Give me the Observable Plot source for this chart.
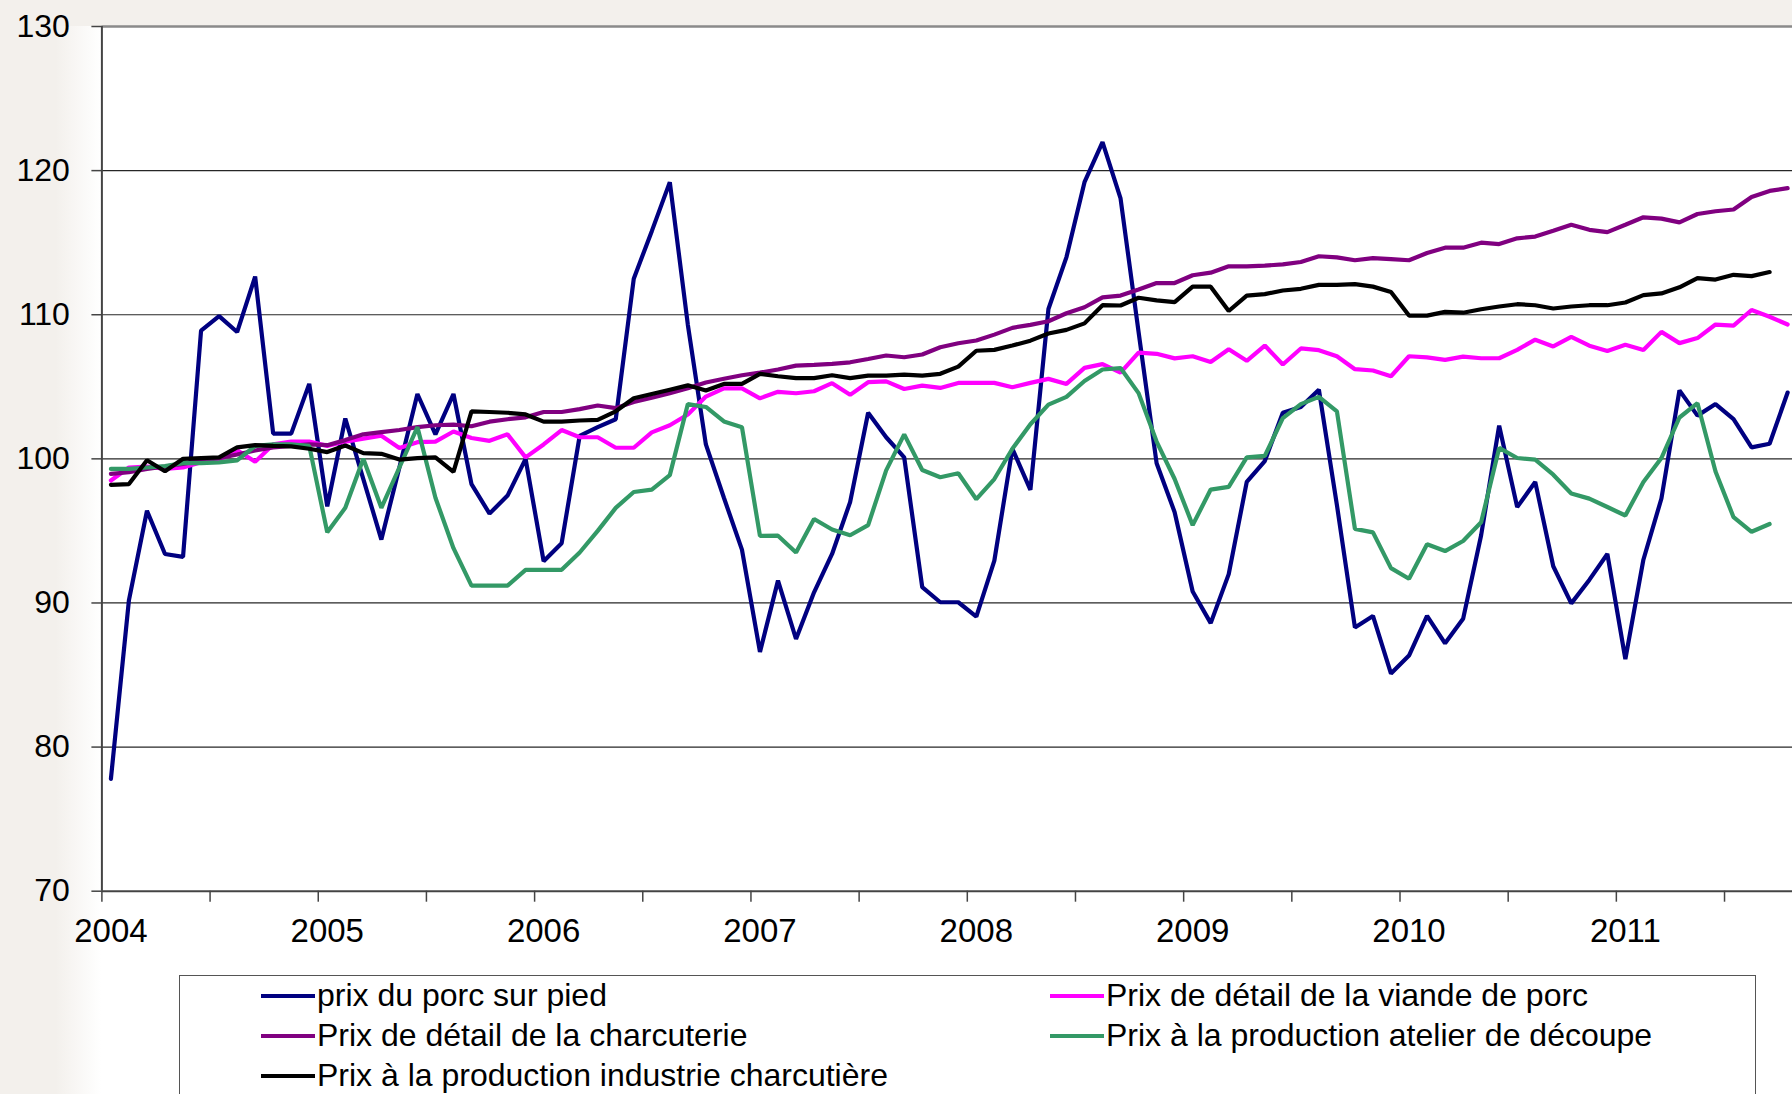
<!DOCTYPE html>
<html>
<head>
<meta charset="utf-8">
<script src="https://cdn.jsdelivr.net/npm/d3@7"></script>
<script src="https://cdn.jsdelivr.net/npm/@observablehq/plot@0.6"></script>
<style>
  html, body { margin: 0; padding: 0; }
  body { width: 1792px; height: 1094px; position: relative; overflow: hidden; background: #ffffff;
         font-family: "Liberation Sans", Arial, sans-serif; }
  #bgTop { position: absolute; left: 0; top: 0; width: 1792px; height: 26px; background: #f3f0ec; }
  #bgLeft { position: absolute; left: 0; top: 0; width: 101px; height: 1094px;
            background: linear-gradient(to right, #f3f0ec 0%, #f3f0ec 55%, rgba(243,240,236,0.0) 100%); }
  #chart { position: absolute; left: 0; top: 0; }
  #legend { position: absolute; left: 179px; top: 975px; width: 1577px; height: 150px;
            border: 1.5px solid #555; background: #fff; box-sizing: border-box; }
  .item { position: absolute; height: 40px; line-height: 40px; font-size: 32px; color: #000; white-space: nowrap; }
  .sw { display: inline-block; width: 54px; height: 4px; vertical-align: middle; margin-right: 2px; position: relative; top: -2px; }
</style>
</head>
<body>
<div id="bgTop"></div>
<div id="bgLeft"></div>
<div id="chart"></div>
<div id="legend"></div>
<script>
// ---- Data (monthly index, January 2004 = 0) ----
const years = [2004, 2005, 2006, 2007, 2008, 2009, 2010, 2011];
const yTicks = [70, 80, 90, 100, 110, 120, 130];

const seriesNames = [
  "prix du porc sur pied",
  "Prix de détail de la viande de porc",
  "Prix de détail de la charcuterie",
  "Prix à la production atelier de découpe",
  "Prix à la production industrie charcutière"
];
const seriesColors = ["#000080", "#ff00ff", "#800080", "#339966", "#000000"];

const porcSurPied = [
  77.8, 90.2, 96.4, 93.4, 93.2, 108.9, 109.9, 108.8, 112.65, 101.75, 101.75, 105.2,
  96.7, 102.8, 98.6, 94.4, 99.4, 104.5, 101.7, 104.5, 98.25, 96.2, 97.45, 100.0,
  92.9, 94.15, 101.6, 102.2, 102.75, 112.5, 115.8, 119.2, 109.3, 101.0, 97.3, 93.7,
  86.6, 91.55, 87.5, 90.74, 93.4, 97.0, 103.2, 101.5, 100.1, 91.1, 90.05, 90.05,
  89.05, 92.94, 100.7, 97.85, 110.4, 114.0, 119.2, 121.97, 118.07, 108.8, 99.7, 96.3,
  90.8, 88.6, 92.0, 98.4, 99.85, 103.2, 103.6, 104.8, 96.8, 88.3, 89.1, 85.1,
  86.35, 89.1, 87.2, 88.9, 94.7, 102.3, 96.65, 98.4, 92.55, 89.97, 91.6, 93.4,
  86.1, 93.0, 97.25, 104.75, 103.0, 103.8, 102.76, 100.8, 101.05, 104.6
];
const viandePorc = [
  98.5, 99.4, 99.47, 99.3, 99.4, 99.77, 99.93, 100.6, 99.8, 101.0, 101.2, 101.2,
  100.9, 101.2, 101.4, 101.6, 100.75, 101.16, 101.2, 101.9, 101.45, 101.25, 101.7, 100.1,
  101.0, 102.0, 101.5, 101.5, 100.77, 100.77, 101.84, 102.33, 103.08, 104.32, 104.89, 104.89,
  104.2, 104.65, 104.55, 104.69, 105.25, 104.44, 105.32, 105.38, 104.85, 105.08, 104.92, 105.27,
  105.27, 105.27, 104.97, 105.27, 105.55, 105.2, 106.31, 106.57, 105.98, 107.37, 107.29, 106.97,
  107.12, 106.72, 107.61, 106.8, 107.86, 106.55, 107.66, 107.54, 107.12, 106.22, 106.13, 105.73,
  107.12, 107.04, 106.87, 107.09, 106.98, 106.98, 107.56, 108.27, 107.8, 108.46, 107.85, 107.49,
  107.92, 107.56, 108.81, 108.03, 108.38, 109.32, 109.25, 110.33, 109.86, 109.32
];
const charcuterie = [
  98.96, 99.07, 99.3, 99.47, 99.65, 99.9, 100.05, 100.3, 100.58, 100.8, 100.9, 101.0,
  100.95, 101.3, 101.7, 101.85, 102.0, 102.2, 102.33, 102.38, 102.26, 102.58, 102.75, 102.88,
  103.25, 103.25, 103.45, 103.7, 103.52, 103.95, 104.24, 104.56, 104.9, 105.3, 105.56, 105.8,
  105.98, 106.2, 106.47, 106.52, 106.59, 106.7, 106.93, 107.17, 107.05, 107.24, 107.74, 108.02,
  108.21, 108.62, 109.09, 109.3, 109.55, 110.1, 110.52, 111.2, 111.33, 111.75, 112.2, 112.2,
  112.74, 112.92, 113.36, 113.36, 113.41, 113.49, 113.66, 114.06, 113.98, 113.78, 113.93, 113.86,
  113.78, 114.28, 114.65, 114.65, 115.0, 114.9, 115.3, 115.42, 115.82, 116.24, 115.89, 115.73,
  116.24, 116.76, 116.67, 116.41, 116.99, 117.18, 117.3, 118.17, 118.59, 118.78
];
const atelierDecoupe = [
  99.3, 99.3, 99.4, 99.5, 99.7, 99.7, 99.75, 99.9, 100.9, 101.0, 101.0, 100.9,
  94.9, 96.6, 100.0, 96.6, 99.4, 102.2, 97.3, 93.8, 91.2, 91.2, 91.2, 92.3,
  92.3, 92.3, 93.5, 95.0, 96.6, 97.7, 97.87, 98.87, 103.8, 103.6, 102.6, 102.2,
  94.65, 94.67, 93.5, 95.83, 95.1, 94.7, 95.4, 99.2, 101.7, 99.23, 98.72, 99.0,
  97.2, 98.6, 100.7, 102.4, 103.76, 104.3, 105.4, 106.2, 106.3, 104.56, 101.2, 98.6,
  95.4, 97.87, 98.05, 100.1, 100.2, 102.83, 103.8, 104.3, 103.3, 95.14, 94.9, 92.42,
  91.68, 94.08, 93.6, 94.3, 95.6, 100.76, 100.06, 99.94, 98.9, 97.6, 97.24, 96.66,
  96.07, 98.4, 100.06, 102.87, 103.86, 99.12, 95.95, 94.94, 95.48
];
const industrieCharcutiere = [
  98.2, 98.25, 99.9, 99.14, 100.0, 100.05, 100.1, 100.8, 100.95, 100.9, 100.86, 100.7,
  100.47, 100.93, 100.4, 100.35, 99.95, 100.05, 100.1, 99.1, 103.3, 103.25, 103.2, 103.08,
  102.58, 102.58, 102.66, 102.7, 103.3, 104.2, 104.5, 104.8, 105.1, 104.74, 105.2, 105.2,
  105.9, 105.73, 105.6, 105.6, 105.8, 105.6, 105.78, 105.78, 105.85, 105.78, 105.9, 106.4,
  107.5, 107.56, 107.86, 108.2, 108.7, 108.95, 109.4, 110.66, 110.64, 111.18, 111.0, 110.88,
  111.95, 111.95, 110.26, 111.33, 111.43, 111.68, 111.8, 112.07, 112.07, 112.12, 111.95, 111.58,
  109.94, 109.94, 110.2, 110.14, 110.38, 110.57, 110.73, 110.66, 110.43, 110.57, 110.66, 110.66,
  110.85, 111.36, 111.48, 111.9, 112.54, 112.44, 112.77, 112.68, 112.96
];

// ---- Build table ----
const seriesValues = [porcSurPied, viandePorc, charcuterie, atelierDecoupe, industrieCharcutiere];
const rows = [];
seriesValues.forEach((vals, k) => {
  vals.forEach((v, i) => rows.push({series: seriesNames[k], x: i + 0.5, v}));
});

// category axis: each month is one unit; points at the centre of their month
const xEnd = 93.77; // visible extent of the (cropped) category axis
const halfYearTicks = d3.range(0, 91, 6);
const yearCenters = years.map((y, k) => k * 12 + 0.5);

const H = 960;
const chart = Plot.plot({
  width: 1792,
  height: H,
  marginLeft: 101.4,
  marginRight: 0,
  marginTop: 26,
  marginBottom: H - 890.7,
  style: {fontFamily: "'Liberation Sans', Arial, sans-serif", fontSize: "32px", color: "#000", background: "transparent", overflow: "visible"},
  x: {domain: [0, xEnd], axis: null},
  y: {domain: [70, 130], axis: null},
  color: {domain: seriesNames, range: seriesColors},
  marks: [
    Plot.frame({fill: "white", stroke: null}),
    Plot.gridY(yTicks.filter(d => d > 70 && d < 130), {stroke: "#000", strokeOpacity: 0.85, strokeWidth: 1.2}),
    Plot.ruleY([130], {stroke: "#8a8a8a", strokeWidth: 2.5}),
    Plot.line(rows, {x: "x", y: "v", z: "series", stroke: "series", strokeWidth: 4.2, strokeLinejoin: "miter", clip: true}),
    Plot.ruleX([0], {stroke: "#444", strokeWidth: 2}),
    Plot.ruleY([70], {stroke: "#444", strokeWidth: 2}),
    Plot.axisY({ticks: yTicks, label: null, tickSize: 10, tickPadding: 22, stroke: "#444", strokeWidth: 1.5, tickFormat: d => String(d), fontSize: 32}),
    Plot.axisX({ticks: halfYearTicks, label: null, tickSize: 11, tickFormat: () => "", stroke: "#444", strokeWidth: 1.5}),
    Plot.axisX({ticks: yearCenters, label: null, tickSize: 0, tickPadding: 27, tickFormat: d => String(years[Math.round((d - 0.5) / 12)]), fontSize: 33})
  ]
});
document.getElementById("chart").appendChild(chart);

// ---- Legend ----
const legend = document.getElementById("legend");
const legendPos = [
  {left: 81, top: -1}, {left: 870, top: -1},
  {left: 81, top: 39}, {left: 870, top: 39},
  {left: 81, top: 79}
];
seriesNames.forEach((name, k) => {
  const it = document.createElement("div");
  it.className = "item";
  it.style.left = legendPos[k].left + "px";
  it.style.top = legendPos[k].top + "px";
  const sw = document.createElement("span");
  sw.className = "sw";
  sw.style.background = seriesColors[k];
  it.appendChild(sw);
  it.appendChild(document.createTextNode(name));
  legend.appendChild(it);
});
</script>
</body>
</html>
